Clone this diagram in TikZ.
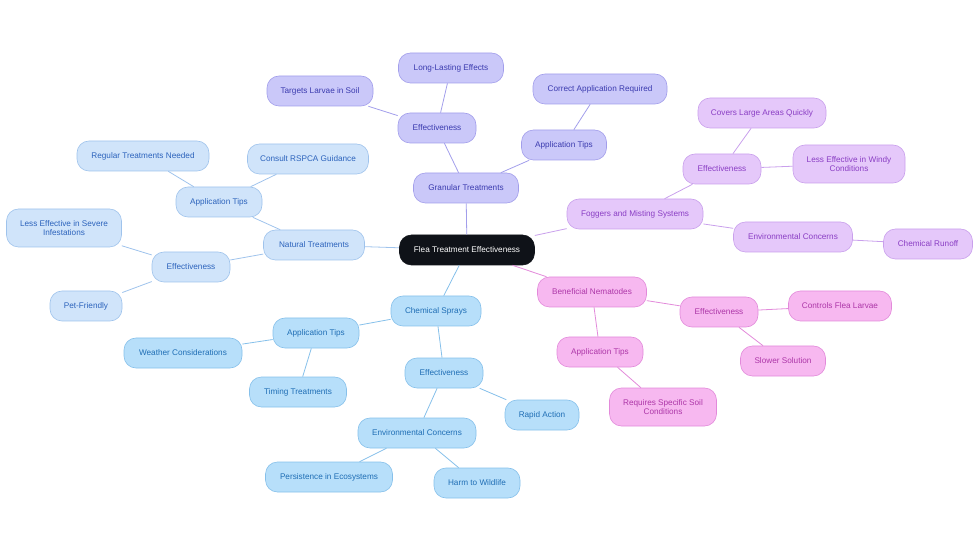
\documentclass[tikz,border=0pt]{standalone}
\usepackage{fontspec}
\setmainfont{Liberation Sans}
\usetikzlibrary{positioning}
\definecolor{mmRoot}{HTML}{0F1218}
\definecolor{mmLavL}{HTML}{CAC8F9}
\definecolor{mmLavD}{HTML}{A29EEB}
\definecolor{mmLavT}{HTML}{3B3BAF}
\definecolor{mmNatL}{HTML}{D0E4FA}
\definecolor{mmNatD}{HTML}{9FC3EC}
\definecolor{mmNatT}{HTML}{2C63BC}
\definecolor{mmChemL}{HTML}{B7DFFA}
\definecolor{mmChemD}{HTML}{86C0EA}
\definecolor{mmChemT}{HTML}{1F6EB5}
\definecolor{mmFogL}{HTML}{E5C8FA}
\definecolor{mmFogD}{HTML}{C9A0EC}
\definecolor{mmFogT}{HTML}{8A3EC4}
\definecolor{mmNemL}{HTML}{F7B8F0}
\definecolor{mmNemD}{HTML}{E28ADA}
\definecolor{mmNemT}{HTML}{AD37A8}
\tikzset{
  mm-box/.style={
    draw, line width=0.6pt, rounded corners=12pt,
    font=\fontsize{8.2}{9.2}\selectfont, align=center,
    inner sep=3pt, minimum height=30pt
  },
  mm-root/.style={mm-box, draw=mmRoot, fill=mmRoot, text=white},
  mm-lav/.style={mm-box, draw=mmLavD, fill=mmLavL, text=mmLavT},
  mm-nat/.style={mm-box, draw=mmNatD, fill=mmNatL, text=mmNatT},
  mm-chem/.style={mm-box, draw=mmChemD, fill=mmChemL, text=mmChemT},
  mm-fog/.style={mm-box, draw=mmFogD, fill=mmFogL, text=mmFogT},
  mm-nem/.style={mm-box, draw=mmNemD, fill=mmNemL, text=mmNemT},
  mm-two/.style={minimum height=38pt},
  mm-link/.style={line width=0.8pt}
}

\begin{document}
\begin{tikzpicture}[x=1pt, y=-1pt]
\useasboundingbox (0,0) rectangle (980,553);

% root
\node[mm-root, minimum width=135pt] (root) at (467,250) {Flea Treatment Effectiveness};

% granular treatments
\node[mm-lav, minimum width=105pt] (gran) at (466,188) {Granular Treatments};
\node[mm-lav, minimum width=78pt] (granEff) at (437,128) {Effectiveness};
\node[mm-lav, minimum width=105pt] (granLong) at (451,68) {Long-Lasting Effects};
\node[mm-lav, minimum width=106pt] (granSoil) at (320,91) {Targets Larvae in Soil};
\node[mm-lav, minimum width=85pt] (granTips) at (564,145) {Application Tips};
\node[mm-lav, minimum width=134pt] (granCorr) at (600,89) {Correct Application Required};

% natural treatments
\node[mm-nat, minimum width=101pt] (nat) at (314,245) {Natural Treatments};
\node[mm-nat, minimum width=86pt] (natTips) at (219,202) {Application Tips};
\node[mm-nat, minimum width=132pt] (natReg) at (143,156) {Regular Treatments Needed};
\node[mm-nat, minimum width=121pt] (natRspca) at (308,159) {Consult RSPCA Guidance};
\node[mm-nat, minimum width=78pt] (natEff) at (191,267) {Effectiveness};
\node[mm-nat, mm-two, minimum width=115pt] (natSevere) at (64,228)
  {Less Effective in Severe\\ Infestations};
\node[mm-nat, minimum width=72pt] (natPet) at (86,306) {Pet-Friendly};

% chemical sprays
\node[mm-chem, minimum width=90pt] (chem) at (436,311) {Chemical Sprays};
\node[mm-chem, minimum width=86pt] (chemTips) at (316,333) {Application Tips};
\node[mm-chem, minimum width=118pt] (chemWeather) at (183,353) {Weather Considerations};
\node[mm-chem, minimum width=97pt] (chemTiming) at (298,392) {Timing Treatments};
\node[mm-chem, minimum width=78pt] (chemEff) at (444,373) {Effectiveness};
\node[mm-chem, minimum width=74pt] (chemRapid) at (542,415) {Rapid Action};
\node[mm-chem, minimum width=118pt] (chemEnv) at (417,433) {Environmental Concerns};
\node[mm-chem, minimum width=127pt] (chemPers) at (329,477) {Persistence in Ecosystems};
\node[mm-chem, minimum width=86pt] (chemHarm) at (477,483) {Harm to Wildlife};

% foggers
\node[mm-fog, minimum width=136pt] (fog) at (635,214) {Foggers and Misting Systems};
\node[mm-fog, minimum width=78pt] (fogEff) at (722,169) {Effectiveness};
\node[mm-fog, minimum width=128pt] (fogCover) at (762,113) {Covers Large Areas Quickly};
\node[mm-fog, mm-two, minimum width=112pt] (fogWind) at (849,164)
  {Less Effective in Windy\\ Conditions};
\node[mm-fog, minimum width=119pt] (fogEnv) at (793,237) {Environmental Concerns};
\node[mm-fog, minimum width=89pt] (fogRunoff) at (928,244) {Chemical Runoff};

% nematodes
\node[mm-nem, minimum width=109pt] (nem) at (592,292) {Beneficial Nematodes};
\node[mm-nem, minimum width=78pt] (nemEff) at (719,312) {Effectiveness};
\node[mm-nem, minimum width=103pt] (nemLarvae) at (840,306) {Controls Flea Larvae};
\node[mm-nem, minimum width=85pt] (nemSlow) at (783,361) {Slower Solution};
\node[mm-nem, minimum width=86pt] (nemTips) at (600,352) {Application Tips};
\node[mm-nem, mm-two, minimum width=107pt] (nemSoil) at (663,407)
  {Requires Specific Soil\\ Conditions};

% Links
\draw[mm-link, draw=mmLavD] (root) -- (gran);
\draw[mm-link, draw=mmLavD] (gran) -- (granEff);
\draw[mm-link, draw=mmLavD] (granEff) -- (granLong);
\draw[mm-link, draw=mmLavD] (granEff) -- (granSoil);
\draw[mm-link, draw=mmLavD] (gran) -- (granTips);
\draw[mm-link, draw=mmLavD] (granTips) -- (granCorr);

\draw[mm-link, draw=mmNatD] (root) -- (nat);
\draw[mm-link, draw=mmNatD] (nat) -- (natTips);
\draw[mm-link, draw=mmNatD] (natTips) -- (natReg);
\draw[mm-link, draw=mmNatD] (natTips) -- (natRspca);
\draw[mm-link, draw=mmNatD] (nat) -- (natEff);
\draw[mm-link, draw=mmNatD] (natEff) -- (natSevere);
\draw[mm-link, draw=mmNatD] (natEff) -- (natPet);

\draw[mm-link, draw=mmChemD] (root) -- (chem);
\draw[mm-link, draw=mmChemD] (chem) -- (chemTips);
\draw[mm-link, draw=mmChemD] (chemTips) -- (chemWeather);
\draw[mm-link, draw=mmChemD] (chemTips) -- (chemTiming);
\draw[mm-link, draw=mmChemD] (chem) -- (chemEff);
\draw[mm-link, draw=mmChemD] (chemEff) -- (chemRapid);
\draw[mm-link, draw=mmChemD] (chemEff) -- (chemEnv);
\draw[mm-link, draw=mmChemD] (chemEnv) -- (chemPers);
\draw[mm-link, draw=mmChemD] (chemEnv) -- (chemHarm);

\draw[mm-link, draw=mmFogD] (root) -- (fog);
\draw[mm-link, draw=mmFogD] (fog) -- (fogEff);
\draw[mm-link, draw=mmFogD] (fogEff) -- (fogCover);
\draw[mm-link, draw=mmFogD] (fogEff) -- (fogWind);
\draw[mm-link, draw=mmFogD] (fog) -- (fogEnv);
\draw[mm-link, draw=mmFogD] (fogEnv) -- (fogRunoff);

\draw[mm-link, draw=mmNemD] (root) -- (nem);
\draw[mm-link, draw=mmNemD] (nem) -- (nemEff);
\draw[mm-link, draw=mmNemD] (nemEff) -- (nemLarvae);
\draw[mm-link, draw=mmNemD] (nemEff) -- (nemSlow);
\draw[mm-link, draw=mmNemD] (nem) -- (nemTips);
\draw[mm-link, draw=mmNemD] (nemTips) -- (nemSoil);
\end{tikzpicture}
\end{document}
